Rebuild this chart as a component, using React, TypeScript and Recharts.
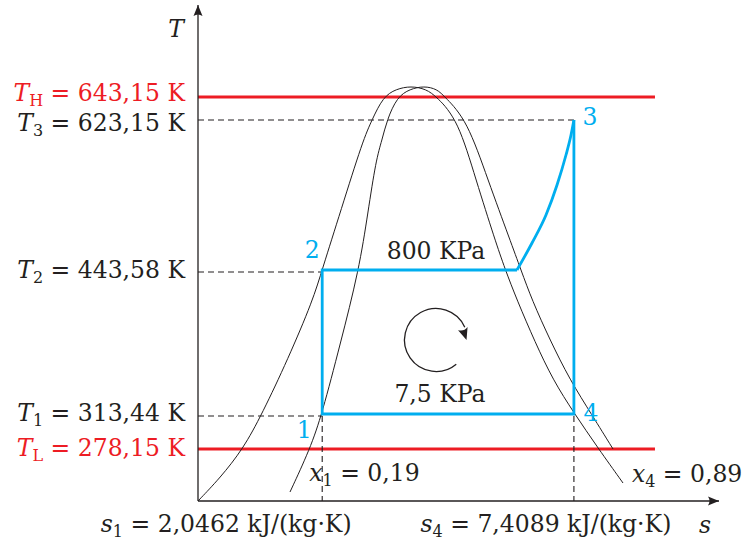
import React from 'react'
import { LineChart, Line, XAxis, YAxis, ReferenceLine, ReferenceDot } from 'recharts'

const ink = '#231f20'
const red = '#ed1c24'
const blue = '#00aeef'
const serif = "'DejaVu Serif', serif"
const fontSize = 23.5

// entropy, kJ/(kg·K)
const s1 = 2.0462
const s4 = 7.4089
const s2Sat = 6.196
const sMin = -0.6
const sMax = 10.5
const sReservoirEnd = 9.136

// temperature levels as drawn (the sketch is not to scale)
const tTop = 496
const tH = 404
const t3 = 381
const t2 = 231
const t1 = 87
const tL = 52
const t2Dash = 229
const t1Dash = 85

const yTickValues = [tL, t1Dash, t2Dash, t3, tH]
const yTickSubs = ['L', '1', '2', '3', 'H']
const yTickTexts = ['278,15 K', '313,44 K', '443,58 K', '623,15 K', '643,15 K']
const yTickHot = [true, false, false, false, true]

const xTickValues = [s1, s4]
const xTickSubs = ['1', '4']
const xTickTexts = ['2,0462 kJ/(kg·K)', '7,4089 kJ/(kg·K)']

// saturation dome, two traced outlines [s, T]
const domeOuter = [
  [-0.6, 0], [-0.131, 23], [0.359, 52], [0.764, 87], [1.317, 142], [1.85, 201],
  [2.042, 231], [2.447, 291], [2.915, 361], [3.107, 381], [3.341, 404], [3.618, 412],
  [3.938, 415], [4.258, 412], [4.492, 404], [4.939, 381], [5.323, 321], [5.728, 261],
  [5.941, 232], [6.196, 201], [6.58, 159], [6.963, 121], [7.411, 88], [7.922, 53], [8.455, 18]
]
const domeInner = [
  [1.36, 9], [1.786, 52], [2.042, 87], [2.425, 156], [2.83, 231], [3.022, 289],
  [3.192, 341], [3.32, 361], [3.427, 381], [3.64, 404], [3.917, 412], [4.215, 415],
  [4.492, 412], [4.662, 404], [5.131, 381], [5.578, 321], [6.047, 261], [6.282, 231],
  [6.516, 201], [6.899, 161], [7.325, 121], [7.794, 86], [8.242, 52]
]

// Rankine cycle
const superheat = [[s2Sat, t2], [6.516, 258], [6.814, 286], [7.049, 316], [7.24, 346], [7.347, 366], [s4, t3]]
const cycleSides = [[s2Sat, t2], [s1, t2], [s1, t1], [s4, t1], [s4, t3]]

const toPoints = (pairs: number[][]) => pairs.map(([s, T]) => ({ s, T }))

// text placed next to points (pixel offsets)
const yTickShift = [7, 5, 6, 11, 4]
const xTickShift = [-96, -28]
const notes = [
  { s: 4.471, T: t2, dx: 0, dy: -11, anchor: 'middle', text: '800 KPa' },
  { s: 4.556, T: t1, dx: 0, dy: -12, anchor: 'middle', text: '7,5 KPa' },
  { s: s1, T: 0, dx: -13, dy: -20, anchor: 'start', sym: 'x', sub: '1', text: ' = 0,19' },
  { s: s4, T: 0, dx: 58, dy: -19, anchor: 'start', sym: 'x', sub: '4', text: ' = 0,89' },
  { s: s1, T: t1, dx: -18, dy: 24, anchor: 'middle', text: '1', color: blue },
  { s: s1, T: t2, dx: -10, dy: -12, anchor: 'middle', text: '2', color: blue },
  { s: s4, T: t3, dx: 16, dy: 5, anchor: 'middle', text: '3', color: blue },
  { s: s4, T: t1, dx: 17, dy: 7, anchor: 'middle', text: '4', color: blue },
  { s: sMin, T: tTop, dx: -22, dy: 32, anchor: 'middle', sym: 'T' },
  { s: sMax, T: 0, dx: -14, dy: 32, anchor: 'middle', sym: 's' }
]

const dashed = { stroke: ink, strokeWidth: 1.1, strokeDasharray: '6 4' }
const reservoir = { stroke: red, strokeWidth: 3 }

interface MathTextProps {
  x: number
  y: number
  anchor?: string
  color?: string
  sym?: string
  sub?: string
  text?: string
}

function MathText({ x, y, anchor = 'middle', color = ink, sym, sub, text }: MathTextProps) {
  return (
    <text
      x={x}
      y={y}
      textAnchor={anchor as any}
      fill={color}
      fontFamily={serif}
      fontSize={fontSize}
      style={{ whiteSpace: 'pre' }}
    >
      {sym && <tspan fontStyle="italic">{sym}</tspan>}
      {sub && (
        <tspan fontSize={16} dy={5}>
          {sub}
        </tspan>
      )}
      {text && <tspan dy={sub ? -5 : 0}>{text}</tspan>}
    </text>
  )
}

const YTick = (props: any) => {
  const { x, y, payload } = props
  const i = yTickValues.indexOf(payload.value)
  if (i < 0) return null
  return (
    <MathText
      x={x}
      y={y + yTickShift[i]}
      anchor="end"
      color={yTickHot[i] ? red : ink}
      sym="T"
      sub={yTickSubs[i]}
      text={' = ' + yTickTexts[i]}
    />
  )
}

const XTick = (props: any) => {
  const { x, y, payload } = props
  const i = xTickValues.indexOf(payload.value)
  if (i < 0) return null
  return (
    <MathText x={x + xTickShift[i]} y={y + 31} sym="s" sub={xTickSubs[i]} text={' = ' + xTickTexts[i]} />
  )
}

const ArrowRight = ({ cx, cy }: any) => (
  <path d={`M${cx},${cy} L${cx - 11},${cy - 4.5} Q${cx - 8},${cy} ${cx - 11},${cy + 4.5} Z`} fill={ink} />
)

const ArrowUp = ({ cx, cy }: any) => (
  <path d={`M${cx},${cy} L${cx - 4.5},${cy + 11} Q${cx},${cy + 8} ${cx + 4.5},${cy + 11} Z`} fill={ink} />
)

const CycleArrow = ({ cx, cy }: any) => {
  const r = 31.5
  const a0 = (50 * Math.PI) / 180
  const a1 = (-24 * Math.PI) / 180
  const x0 = cx + r * Math.cos(a0)
  const y0 = cy + r * Math.sin(a0)
  const x1 = cx + r * Math.cos(a1)
  const y1 = cy + r * Math.sin(a1)
  return (
    <g>
      <path d={`M${x0},${y0} A${r},${r} 0 1 1 ${x1},${y1}`} fill="none" stroke={ink} strokeWidth={1.3} />
      <path
        d="M0,0 L-5,-12 Q0,-8.5 5,-12 Z"
        fill={ink}
        transform={`translate(${cx + r - 1},${cy}) rotate(-18)`}
      />
    </g>
  )
}

const domeLine = {
  dataKey: 'T',
  type: 'basis' as const,
  stroke: ink,
  strokeWidth: 1,
  dot: false,
  activeDot: false,
  isAnimationActive: false
}

const cycleLine = {
  dataKey: 'T',
  stroke: blue,
  strokeWidth: 2.8,
  dot: false,
  activeDot: false,
  isAnimationActive: false
}

export default function App(): JSX.Element {
  return (
    <div style={{ position: 'absolute', left: 0, top: 0 }}>
      <LineChart width={752} height={541} margin={{ top: 5, right: 33, bottom: 0, left: 0 }}>
        <XAxis
          dataKey="s"
          type="number"
          domain={[sMin, sMax]}
          allowDataOverflow
          ticks={xTickValues}
          interval={0}
          height={40}
          tickSize={0}
          tickMargin={0}
          tickLine={false}
          axisLine={{ stroke: ink, strokeWidth: 1.3 }}
          tick={<XTick />}
        />
        <YAxis
          dataKey="T"
          type="number"
          domain={[0, tTop]}
          allowDataOverflow
          ticks={yTickValues}
          interval={0}
          width={198}
          tickSize={0}
          tickMargin={13}
          tickLine={false}
          axisLine={{ stroke: ink, strokeWidth: 1.3 }}
          tick={<YTick />}
        />

        <ReferenceLine segment={[{ x: sMin, y: tH }, { x: sReservoirEnd, y: tH }]} {...reservoir} />
        <ReferenceLine segment={[{ x: sMin, y: tL }, { x: sReservoirEnd, y: tL }]} {...reservoir} />

        <ReferenceLine segment={[{ x: sMin, y: t3 }, { x: s4, y: t3 }]} {...dashed} />
        <ReferenceLine segment={[{ x: sMin, y: t2Dash }, { x: s1, y: t2Dash }]} {...dashed} />
        <ReferenceLine segment={[{ x: sMin, y: t1Dash }, { x: s1, y: t1Dash }]} {...dashed} />
        <ReferenceLine segment={[{ x: s1, y: t1Dash }, { x: s1, y: 0 }]} {...dashed} />
        <ReferenceLine segment={[{ x: s4, y: t1Dash }, { x: s4, y: 0 }]} {...dashed} />

        <Line data={toPoints(domeOuter)} {...domeLine} />
        <Line data={toPoints(domeInner)} {...domeLine} />
        <Line data={toPoints(cycleSides)} {...cycleLine} type="linear" strokeLinejoin="miter" />
        <Line data={toPoints(superheat)} {...cycleLine} type="monotone" />

        <ReferenceDot x={4.471} y={161} r={0} ifOverflow="visible" shape={CycleArrow} />
        <ReferenceDot x={sMax} y={0} r={0} ifOverflow="visible" shape={ArrowRight} />
        <ReferenceDot x={sMin} y={tTop} r={0} ifOverflow="visible" shape={ArrowUp} />

        {notes.map((n, i) => (
          <ReferenceDot
            key={i}
            x={n.s}
            y={n.T}
            r={0}
            ifOverflow="visible"
            shape={(p: any) => (
              <MathText
                x={p.cx + n.dx}
                y={p.cy + n.dy}
                anchor={n.anchor}
                color={n.color}
                sym={n.sym}
                sub={n.sub}
                text={n.text}
              />
            )}
          />
        ))}
      </LineChart>
    </div>
  )
}
